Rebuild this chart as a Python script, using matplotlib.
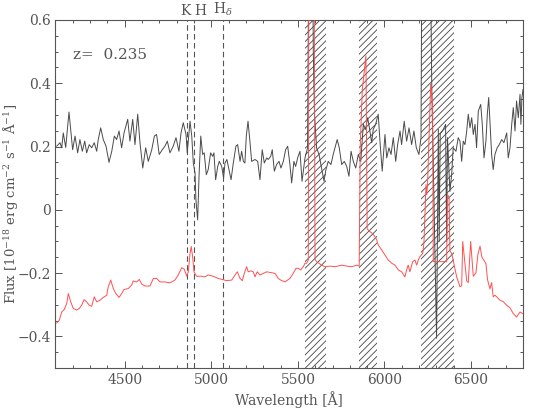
import matplotlib
matplotlib.use('Agg')
import matplotlib.pyplot as plt
from matplotlib.ticker import MultipleLocator, FixedLocator, FixedFormatter

# observed spectrum (grey)
obs_wave = [4107, 4126, 4136, 4145, 4159, 4178, 4199, 4213, 4228, 4241,
            4255, 4269, 4280, 4295, 4309, 4324, 4338, 4347, 4361, 4376,
            4392, 4409, 4425, 4440, 4453, 4467, 4482, 4496, 4517, 4530,
            4546, 4559, 4575, 4588, 4604, 4621, 4636, 4656, 4671, 4684,
            4699, 4717, 4732, 4746, 4761, 4780, 4796, 4813, 4825, 4838,
            4854, 4861, 4877, 4887, 4896, 4906, 4911, 4921, 4929, 4939,
            4950, 4959, 4971, 4982, 4996, 5008, 5015, 5025, 5037, 5046,
            5060, 5071, 5079, 5090, 5102, 5114, 5127, 5142, 5152, 5166,
            5175, 5185, 5194, 5202, 5212, 5222, 5233, 5252, 5268, 5281,
            5294, 5306, 5320, 5329, 5343, 5352, 5364, 5377, 5391, 5402,
            5416, 5429, 5441, 5454, 5464, 5477, 5487, 5499, 5512, 5524,
            5541, 5556, 5564, 5584, 5589, 5596, 5608, 5622, 5637, 5651,
            5660, 5675, 5691, 5704, 5714, 5727, 5739, 5753, 5768, 5782,
            5795, 5807, 5820, 5834, 5849, 5863, 5878, 5891, 5903, 5916,
            5926, 5935, 5949, 5964, 5974, 5987, 6003, 6013, 6026, 6038,
            6051, 6065, 6076, 6090, 6099, 6114, 6128, 6142, 6157, 6170,
            6184, 6199, 6211, 6217, 6263, 6273, 6301, 6311, 6316, 6322,
            6340, 6353, 6359, 6364, 6378, 6388, 6397, 6413, 6426, 6436,
            6446, 6455, 6465, 6475, 6484, 6494, 6504, 6513, 6523, 6532,
            6542, 6556, 6565, 6575, 6586, 6594, 6602, 6609, 6619, 6628,
            6638, 6651, 6663, 6677, 6690, 6706, 6715, 6725, 6735, 6744,
            6754, 6763, 6773, 6783, 6788, 6794, 6800]
obs_flux = [0.201, 0.212, 0.196, 0.243, 0.197, 0.309, 0.190, 0.233, 0.180, 0.222,
            0.185, 0.217, 0.180, 0.206, 0.196, 0.212, 0.185, 0.222, 0.259, 0.222,
            0.201, 0.150, 0.185, 0.233, 0.222, 0.249, 0.196, 0.243, 0.286, 0.217,
            0.286, 0.206, 0.302, 0.212, 0.132, 0.196, 0.153, 0.190, 0.233, 0.238,
            0.175, 0.190, 0.201, 0.217, 0.180, 0.201, 0.228, 0.185, 0.243, 0.275,
            0.238, 0.180, 0.280, 0.233, 0.148, 0.116, 0.032, -0.032, 0.106, 0.233,
            0.175, 0.180, 0.111, 0.127, 0.180, 0.169, 0.180, 0.095, 0.137, 0.153,
            0.137, 0.100, 0.148, 0.159, 0.127, 0.095, 0.148, 0.201, 0.206, 0.153,
            0.185, 0.153, 0.148, 0.233, 0.280, 0.222, 0.153, 0.159, 0.153, 0.095,
            0.190, 0.148, 0.164, 0.159, 0.169, 0.190, 0.122, 0.143, 0.153, 0.132,
            0.153, 0.190, 0.201, 0.143, 0.085, 0.153, 0.137, 0.165, 0.185, 0.090,
            0.164, 0.196, 0.950, 0.950, 0.500, 0.300, 0.196, 0.175, 0.132, 0.090,
            0.122, 0.153, 0.143, 0.175, 0.196, 0.222, 0.196, 0.143, 0.153, 0.137,
            0.106, 0.185, 0.153, 0.132, 0.175, 0.153, 0.270, 0.254, 0.291, 0.249,
            0.212, 0.254, 0.270, 0.302, 0.217, 0.122, 0.238, 0.164, 0.196, 0.175,
            0.228, 0.153, 0.206, 0.249, 0.206, 0.280, 0.217, 0.259, 0.206, 0.249,
            0.196, 0.175, 0.228, 0.950, 0.950, 0.397, -0.406, 0.254, -0.100, 0.240,
            0.254, 0.270, -0.100, 0.228, 0.058, 0.111, 0.196, 0.185, 0.228, 0.217,
            0.153, 0.217, 0.206, 0.249, 0.302, 0.259, 0.291, 0.238, 0.270, 0.196,
            0.312, 0.333, 0.270, 0.164, 0.217, 0.302, 0.355, 0.280, 0.175, 0.127,
            0.175, 0.196, 0.206, 0.222, 0.212, 0.243, 0.164, 0.196, 0.270, 0.323,
            0.249, 0.344, 0.291, 0.365, 0.270, 0.355, 0.380]

# model spectrum (red)
mod_wave = [4107, 4122, 4136, 4151, 4165, 4174, 4188, 4203, 4222, 4237,
            4251, 4265, 4280, 4295, 4309, 4324, 4338, 4357, 4376, 4396,
            4405, 4419, 4434, 4449, 4467, 4482, 4496, 4520, 4540, 4549,
            4569, 4584, 4598, 4617, 4646, 4665, 4684, 4704, 4732, 4761,
            4790, 4809, 4829, 4844, 4858, 4867, 4877, 4884, 4892, 4900,
            4915, 4944, 4963, 4982, 5011, 5040, 5060, 5089, 5118, 5137,
            5150, 5166, 5179, 5190, 5204, 5213, 5227, 5242, 5252, 5265,
            5281, 5300, 5320, 5349, 5368, 5387, 5400, 5425, 5454, 5473,
            5489, 5502, 5516, 5531, 5541, 5551, 5560, 5564, 5593, 5599,
            5608, 5637, 5656, 5685, 5714, 5753, 5782, 5811, 5839, 5854,
            5860, 5872, 5893, 5900, 5916, 5931, 5945, 5955, 5964, 5984,
            6003, 6022, 6042, 6061, 6080, 6099, 6118, 6128, 6137, 6147,
            6163, 6176, 6186, 6195, 6205, 6221, 6228, 6240, 6244, 6249,
            6267, 6278, 6282, 6359, 6364, 6373, 6378, 6388, 6397, 6417,
            6436, 6446, 6452, 6465, 6475, 6484, 6498, 6513, 6528, 6540,
            6552, 6563, 6575, 6586, 6595, 6609, 6619, 6628, 6638, 6648,
            6667, 6686, 6706, 6725, 6744, 6763, 6783, 6798]
mod_flux = [-0.358, -0.349, -0.323, -0.315, -0.296, -0.265, -0.291, -0.312, -0.317, -0.312,
            -0.302, -0.284, -0.291, -0.302, -0.305, -0.275, -0.291, -0.286, -0.277, -0.270,
            -0.243, -0.222, -0.249, -0.265, -0.277, -0.265, -0.252, -0.249, -0.238, -0.225,
            -0.228, -0.220, -0.235, -0.241, -0.241, -0.217, -0.217, -0.228, -0.228, -0.231,
            -0.222, -0.206, -0.183, -0.188, -0.210, -0.196, -0.138, -0.116, -0.148, -0.196,
            -0.210, -0.210, -0.212, -0.206, -0.210, -0.217, -0.220, -0.224, -0.222, -0.206,
            -0.196, -0.217, -0.224, -0.201, -0.180, -0.196, -0.193, -0.196, -0.212, -0.196,
            -0.206, -0.201, -0.196, -0.199, -0.201, -0.217, -0.222, -0.228, -0.217, -0.201,
            -0.185, -0.185, -0.190, -0.180, -0.169, -0.169, -0.159, 0.950, 0.950, -0.157,
            -0.164, -0.175, -0.180, -0.178, -0.180, -0.175, -0.178, -0.180, -0.175, -0.178,
            0.200, 0.380, 0.487, -0.060, -0.069, -0.075, -0.085, -0.095, -0.111, -0.127,
            -0.143, -0.159, -0.169, -0.175, -0.190, -0.196, -0.212, -0.190, -0.175, -0.196,
            -0.164, -0.159, -0.175, -0.159, -0.148, -0.138, -0.105, 0.080, 0.048, 0.080,
            0.397, 0.333, -0.164, -0.164, 0.048, 0.040, -0.130, -0.138, -0.160, -0.212,
            -0.243, -0.240, -0.100, -0.170, -0.225, -0.230, -0.100, -0.210, -0.200, -0.140,
            -0.115, -0.150, -0.160, -0.170, -0.220, -0.250, -0.230, -0.275, -0.270, -0.275,
            -0.286, -0.290, -0.302, -0.310, -0.328, -0.339, -0.323, -0.328]

# masked (telluric / sky) windows
mask_lo = [5540, 5855, 6210]
mask_hi = [5662, 5955, 6400]

# K, H, H-delta at the redshift of the galaxy
redshift = 0.235
line_names = ['K', 'H', r'H$_\delta$']
line_rest = [3934, 3969, 4102]
label_pos = [4852, 4938, 5068]

x_ticks = [4500, 5000, 5500, 6000, 6500]
y_ticks = [-0.4, -0.2, 0, 0.2, 0.4, 0.6]
y_labels = ['\u22120.4', '\u22120.2', '0', '0.2', '0.4', '0.6']

grey = '#555555'
plt.rcParams['font.family'] = 'DejaVu Serif'
plt.rcParams['mathtext.fontset'] = 'dejavuserif'
plt.rcParams['hatch.linewidth'] = 0.6

fig = plt.figure(figsize=(5.56, 4.15), dpi=100)
ax = fig.add_axes([0.0998, 0.1133, 0.8408, 0.8386])

for lo, hi in zip(mask_lo, mask_hi):
    ax.axvspan(lo, hi, facecolor='none', edgecolor='#444444',
               hatch='/////', linewidth=0, zorder=1)

for rest in line_rest:
    ax.axvline(rest * (1 + redshift), color=grey, ls=(0, (5, 3)),
               lw=0.8, zorder=2)
for name, xpos in zip(line_names, label_pos):
    ax.text(xpos, 0.607, name, ha='center', va='bottom', fontsize=10,
            color=grey)

ax.plot(obs_wave, obs_flux, color='#4a4a4a', lw=0.7, zorder=3)
ax.plot(mod_wave, mod_flux, color='#ff5050', lw=0.7, zorder=4)

ax.text(4200, 0.49, 'z=  %.3f' % redshift, fontsize=11, color=grey,
        va='center')

ax.set_xlim(4100, 6800)
ax.set_ylim(-0.5, 0.6)
ax.xaxis.set_major_locator(FixedLocator(x_ticks))
ax.xaxis.set_minor_locator(MultipleLocator(100))
ax.yaxis.set_major_locator(FixedLocator(y_ticks))
ax.yaxis.set_major_formatter(FixedFormatter(y_labels))
ax.yaxis.set_minor_locator(MultipleLocator(0.05))
ax.tick_params(which='both', direction='in', top=True, right=True,
               colors=grey, labelsize=10)
ax.tick_params(which='major', length=5, width=0.7)
ax.tick_params(which='minor', length=2.5, width=0.7)
for sp in ax.spines.values():
    sp.set_color(grey)
    sp.set_linewidth(0.8)

ax.set_xlabel('Wavelength [\u00c5]', fontsize=10, color=grey, labelpad=3)
ax.set_ylabel('Flux [10$^{-18}$ erg cm$^{-2}$ s$^{-1}$ \u00c5$^{-1}$]',
              fontsize=9.5, color=grey)
ax.yaxis.set_label_coords(-0.076, 0.47)

fig.savefig('out.png', dpi=100)
